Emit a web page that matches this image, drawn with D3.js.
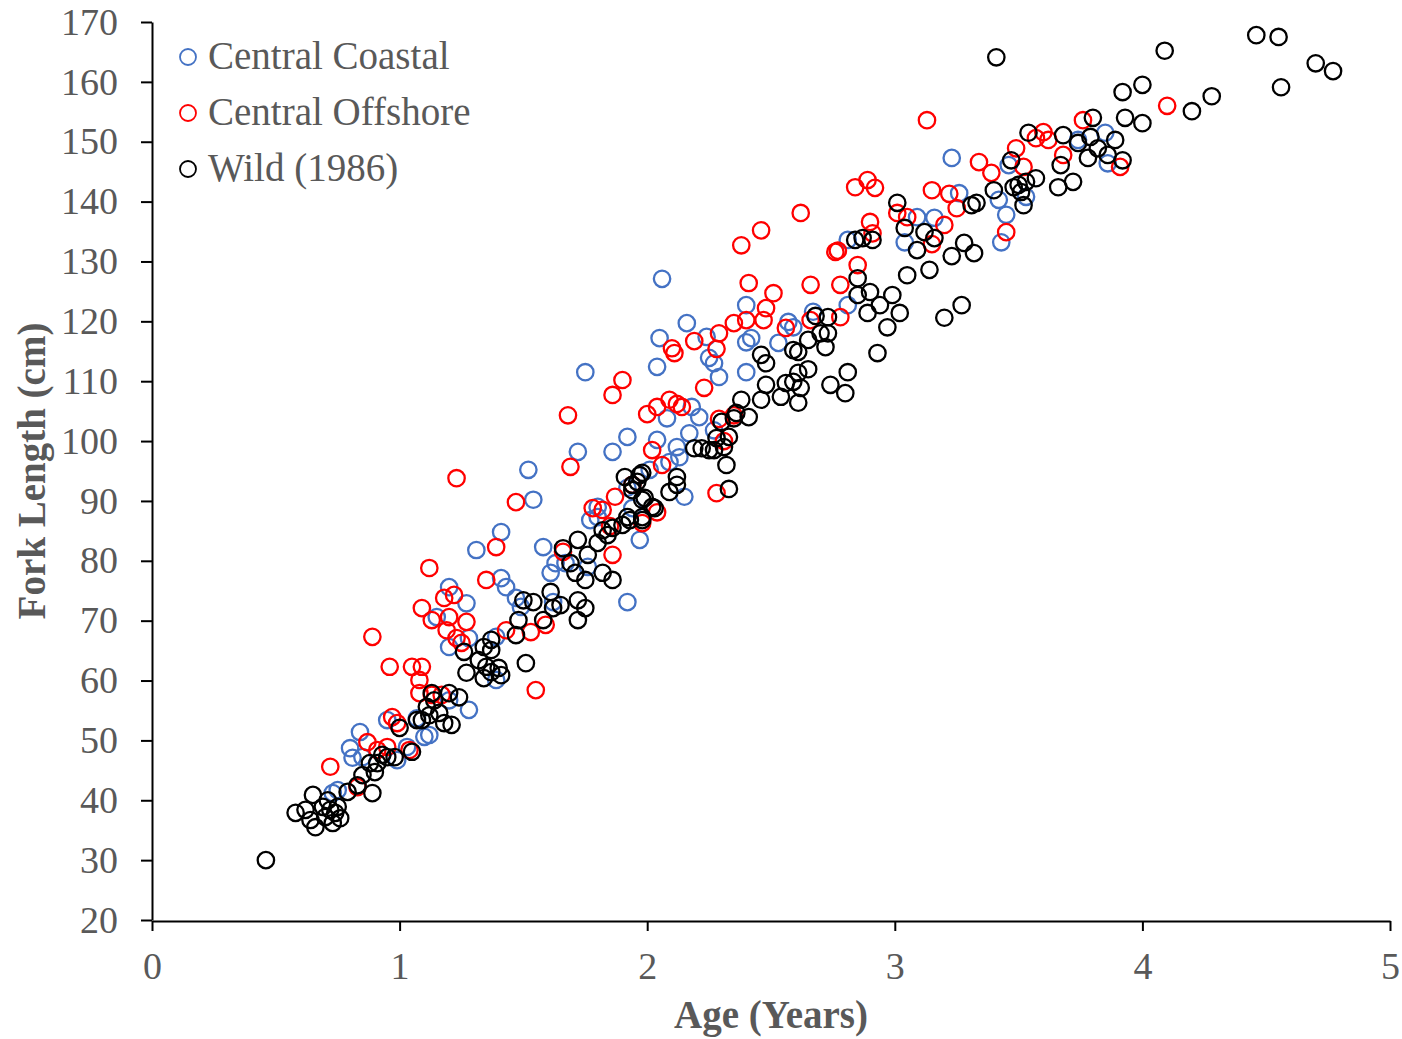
<!DOCTYPE html>
<html>
<head>
<meta charset="utf-8">
<script src="https://cdn.jsdelivr.net/npm/d3@7"></script>
<style>
  body { margin: 0; background: #fff; }
  svg text { font-family: "Liberation Serif", "Times New Roman", serif; fill: #595959; }
</style>
</head>
<body>
<svg id="chart"></svg>
<script>
var width = 1402, height = 1039;

// [age (years), fork length (cm)]
var coastal = [[0.73,41.2],[0.75,41.7],[0.80,48.7],[0.81,47.1],[0.84,51.4],[0.85,47.2],[0.95,53.4],[0.99,46.7],
  [1.03,48.9],[1.07,53.7],[1.10,50.6],[1.12,50.9],[1.20,56.7],[1.28,55.1],[1.15,70.6],[1.20,75.6],[1.20,65.6],
  [1.27,72.9],[1.28,67.1],[1.31,81.8],[1.39,67.3],[1.39,60.1],[1.41,84.8],[1.41,77.1],[1.43,75.6],[1.47,73.8],
  [1.49,72.3],[1.52,95.2],[1.54,90.2],[1.58,82.3],[1.61,78.0],[1.62,73.1],[1.63,79.6],[1.67,79.6],[1.72,98.2],
  [1.75,111.5],[1.76,79.0],[1.77,86.8],[1.80,87.3],[1.80,89.0],[1.86,98.2],[1.92,100.7],[1.92,92.2],[1.94,88.8],
  [1.97,83.5],[1.92,73.1],[2.01,95.2],[2.04,112.4],[2.04,100.2],[2.05,117.2],[2.06,127.1],[2.08,103.8],[2.09,96.5],
  [2.12,99.0],[2.13,97.3],[2.15,90.7],[2.16,119.7],[2.17,101.3],[2.18,105.7],[2.21,104.0],[2.24,117.4],[2.25,113.9],
  [2.27,113.0],[2.27,101.8],[2.29,110.7],[2.40,122.7],[2.40,116.5],[2.42,117.2],[2.40,111.5],[2.53,116.4],
  [2.57,119.9],[2.59,119.0],[2.67,121.6],[2.81,122.7],[2.81,133.6],[3.04,133.2],[3.09,137.4],[3.16,137.3],
  [3.23,147.3],[3.26,141.4],[3.43,133.2],[3.42,140.3],[3.45,137.8],[3.46,146.1],[3.53,140.8],[3.74,150.3],
  [3.85,151.5],[3.86,146.4]];

var offshore = [[0.72,45.6],[0.83,42.2],[0.87,49.7],[0.91,48.4],[0.95,48.9],[0.97,53.9],[0.99,52.9],[1.04,48.4],
  [0.89,67.3],[0.96,62.3],[1.05,62.3],[1.09,62.3],[1.08,60.1],[1.08,57.9],[1.13,57.6],[1.17,57.6],[1.12,78.8],
  [1.09,72.1],[1.13,70.1],[1.18,73.8],[1.22,74.3],[1.20,70.6],[1.19,68.4],[1.23,67.1],[1.27,69.8],[1.25,66.3],
  [1.23,93.8],[1.35,76.8],[1.39,82.3],[1.43,68.4],[1.47,89.8],[1.53,68.1],[1.55,58.4],[1.59,69.3],[1.66,81.5],
  [1.68,104.3],[1.69,95.7],[1.78,88.8],[1.82,88.5],[1.85,85.8],[1.86,81.0],[1.87,90.7],[1.86,107.7],[1.90,110.2],
  [1.94,92.7],[1.98,86.3],[2.00,104.5],[2.02,98.5],[2.04,105.7],[2.04,88.1],[2.06,96.0],[2.09,106.9],[2.10,115.5],
  [2.11,114.7],[2.12,106.2],[2.14,105.7],[2.19,116.7],[2.23,108.9],[2.28,115.4],[2.29,118.0],[2.29,103.7],
  [2.31,100.0],[2.28,91.3],[2.35,119.7],[2.35,104.3],[2.38,132.7],[2.40,120.2],[2.41,126.4],[2.47,120.2],
  [2.48,122.2],[2.51,124.7],[2.56,118.9],[2.66,126.1],[2.62,138.1],[2.46,135.2],[2.66,120.2],[2.76,131.6],
  [2.77,131.8],[2.78,126.1],[2.78,120.7],[2.85,129.4],[2.84,142.4],[2.89,143.6],[2.92,142.3],[2.90,136.6],
  [2.91,134.7],[3.05,137.4],[3.01,138.1],[3.13,153.6],[3.15,141.9],[3.20,136.1],[3.22,141.3],[3.25,138.9],
  [3.15,132.9],[3.34,146.6],[3.39,144.8],[3.45,134.9],[3.49,148.9],[3.52,145.8],[3.57,150.6],[3.60,151.6],
  [3.62,150.3],[3.68,147.8],[3.76,153.6],[3.91,145.8],[4.10,156.0]];

var wild = [[0.46,30.0],[0.58,37.9],[0.62,38.4],[0.64,36.7],[0.65,40.9],[0.66,35.5],[0.69,38.9],[0.70,37.2],
  [0.71,40.0],[0.72,38.4],[0.73,36.2],[0.74,37.9],[0.75,38.9],[0.76,37.0],[0.79,41.4],[0.83,42.5],[0.85,44.2],
  [0.88,46.2],[0.89,41.2],[0.90,44.7],[0.91,46.2],[0.93,47.6],[0.95,47.2],[0.98,47.2],[1.00,52.1],[1.05,48.1],
  [1.07,53.4],[1.09,53.4],[1.11,55.6],[1.12,54.2],[1.13,57.9],[1.14,56.7],[1.16,54.6],[1.18,52.9],[1.21,52.6],
  [1.20,57.9],[1.24,57.2],[1.26,64.8],[1.27,61.3],[1.32,63.4],[1.34,65.6],[1.34,60.4],[1.35,62.3],[1.37,65.1],
  [1.37,61.4],[1.40,62.1],[1.41,60.9],[1.37,66.8],[1.47,67.6],[1.48,70.1],[1.50,73.4],[1.51,62.9],[1.54,73.1],
  [1.58,70.1],[1.61,74.8],[1.62,72.1],[1.65,72.6],[1.66,82.1],[1.72,83.5],[1.71,78.0],[1.72,73.4],[1.72,70.1],
  [1.75,76.8],[1.75,72.1],[1.76,81.0],[1.80,83.0],[1.82,78.0],[1.84,84.3],[1.86,76.8],[1.86,85.5],[1.90,86.0],
  [1.91,94.0],[1.93,86.8],[1.94,91.8],[1.97,94.3],[1.98,87.3],[1.99,90.5],[2.02,89.0],[1.69,79.6],[1.82,85.1],
  [1.92,87.3],[1.94,92.7],[1.98,90.2],[1.98,86.8],[2.03,88.8],[2.09,91.5],[2.12,94.0],[2.12,92.7],[1.98,94.7],
  [1.96,93.2],[2.19,98.8],[2.22,98.8],[2.25,98.5],[2.27,98.5],[2.31,99.0],[2.28,100.5],[2.33,100.7],[2.30,103.2],
  [2.35,103.8],[2.38,106.9],[2.41,104.0],[2.36,104.7],[2.32,96.0],[2.33,92.0],[2.46,114.4],[2.48,113.0],
  [2.46,106.9],[2.48,109.4],[2.54,107.4],[2.56,109.7],[2.59,109.9],[2.62,108.9],[2.61,106.4],[2.59,115.2],
  [2.61,114.9],[2.65,112.0],[2.61,111.4],[2.65,116.9],[2.68,120.9],[2.73,120.7],[2.70,118.0],[2.73,118.0],
  [2.72,115.7],[2.74,109.4],[2.81,111.5],[2.80,108.0],[2.93,114.7],[2.84,133.6],[2.87,133.9],[2.91,133.6],
  [2.85,127.2],[2.85,124.4],[2.90,124.9],[2.89,121.4],[2.94,122.7],[2.99,124.4],[3.02,121.4],[2.97,119.0],
  [3.01,139.8],[3.04,135.6],[3.09,131.9],[3.12,134.9],[3.16,133.9],[3.05,127.7],[3.14,128.6],[3.23,130.9],
  [3.28,133.1],[3.32,131.4],[3.20,120.6],[3.27,122.7],[3.31,139.4],[3.33,139.8],[3.40,141.9],[3.47,146.9],
  [3.48,142.4],[3.50,142.8],[3.51,141.6],[3.52,139.4],[3.53,143.3],[3.57,143.9],[3.54,151.5],[3.66,142.4],
  [3.72,143.3],[3.67,146.1],[3.68,151.1],[3.74,149.8],[3.78,147.3],[3.80,154.0],[3.79,150.8],[3.82,148.9],
  [3.89,150.3],[3.86,147.8],[3.92,146.9],[3.93,154.0],[4.00,153.1],[3.92,158.3],[4.00,159.5],[4.09,165.2],
  [4.20,155.1],[4.28,157.6],[4.46,167.8],[4.55,167.5],[4.56,159.1],[4.70,163.1],[4.77,161.8],[3.41,164.1]];

var seriesNames = ["Central Coastal", "Central Offshore", "Wild (1986)"];
var seriesColors = ["#4472C4", "#FF0000", "#000000"];
var xTicks = [0, 1, 2, 3, 4, 5];
var yTicks = d3.range(20, 171, 10);

var svg = d3.select("#chart")
  .attr("width", width)
  .attr("height", height);

var x = d3.scaleLinear().domain([0, 5]).range([152, 1390]);
var y = d3.scaleLinear().domain([20, 170]).range([920, 22]);

// axes
var xAxis = svg.append("g")
  .attr("transform", "translate(0,921)")
  .call(d3.axisBottom(x).tickValues(xTicks).tickSize(10).tickSizeOuter(0).tickPadding(21).tickFormat(d3.format("d")));

var yAxis = svg.append("g")
  .attr("transform", "translate(152,0)")
  .call(d3.axisLeft(y).tickValues(yTicks).tickSize(11).tickSizeOuter(0).tickPadding(23));

[xAxis, yAxis].forEach(function(g) {
  g.selectAll("path, line").attr("stroke", "#000").attr("stroke-width", 2);
  g.selectAll("text").attr("font-size", 38).attr("fill", "#595959")
    .attr("font-family", "'Liberation Serif', 'Times New Roman', serif");
});

// points
var allSeries = [coastal, offshore, wild];
allSeries.forEach(function(data, i) {
  svg.append("g")
    .selectAll("circle")
    .data(data)
    .enter().append("circle")
    .attr("cx", function(d) { return x(d[0]); })
    .attr("cy", function(d) { return y(d[1]); })
    .attr("r", 8.2)
    .attr("fill", "none")
    .attr("stroke", seriesColors[i])
    .attr("stroke-width", 2.3);
});

// axis titles
svg.append("text")
  .attr("x", 771).attr("y", 1028)
  .attr("text-anchor", "middle")
  .attr("font-size", 39).attr("font-weight", "bold")
  .text("Age (Years)");

svg.append("text")
  .attr("transform", "translate(45,471) rotate(-90)")
  .attr("text-anchor", "middle")
  .attr("font-size", 39).attr("font-weight", "bold")
  .text("Fork Length (cm)");

// legend
var legend = svg.append("g")
  .selectAll("g")
  .data(seriesNames)
  .enter().append("g")
  .attr("transform", function(d, i) { return "translate(188," + (57 + i * 56) + ")"; });

legend.append("circle")
  .attr("r", 8)
  .attr("fill", "none")
  .attr("stroke", function(d, i) { return seriesColors[i]; })
  .attr("stroke-width", 1.8);

legend.append("text")
  .attr("x", 20).attr("y", 12)
  .attr("font-size", 39)
  .text(function(d) { return d; });
</script>
</body>
</html>
